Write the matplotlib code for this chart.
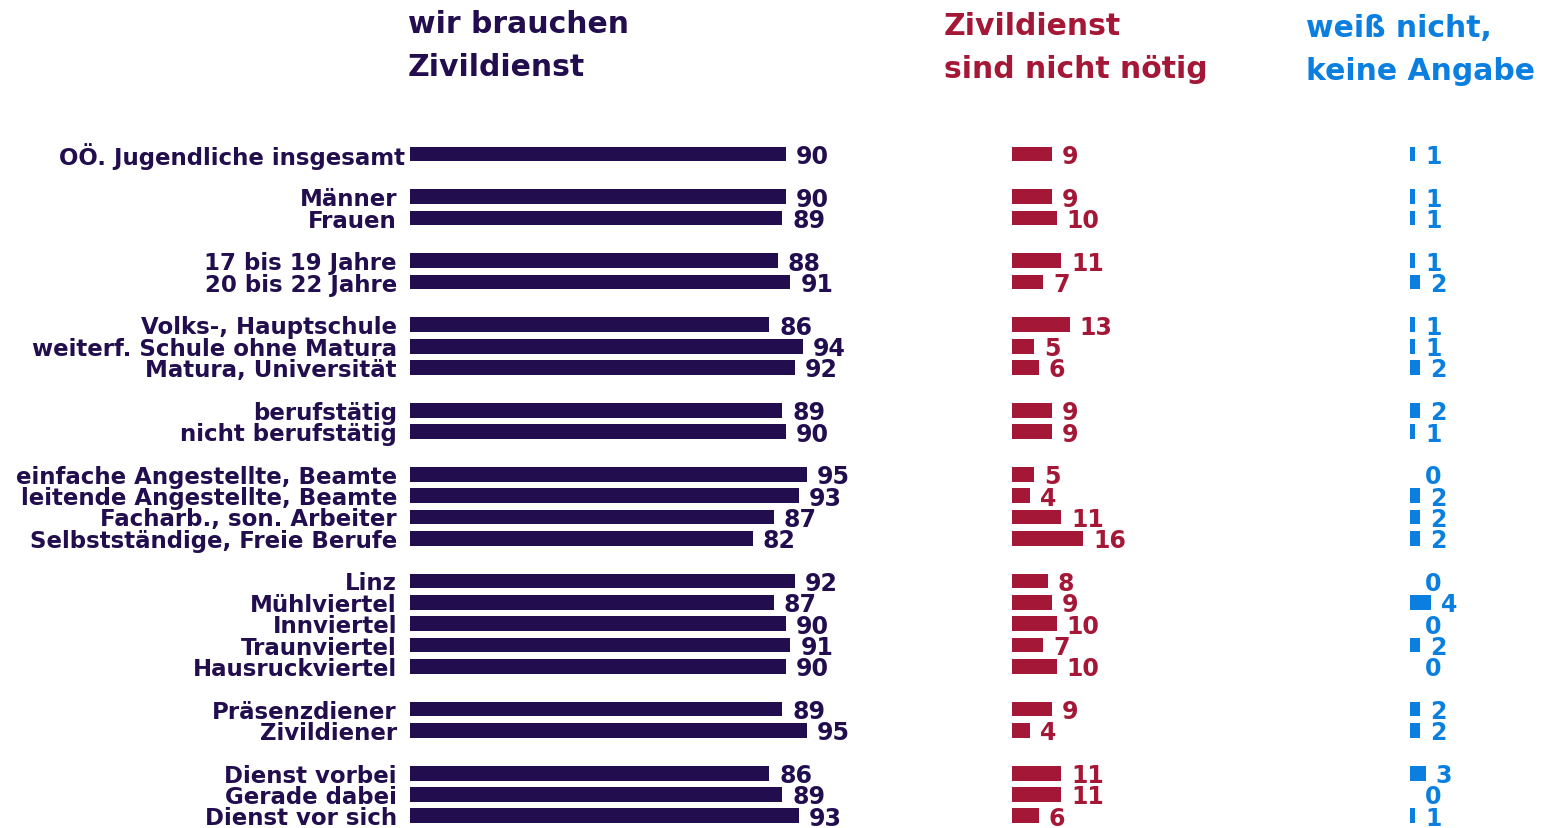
import matplotlib
matplotlib.use("Agg")
import matplotlib.pyplot as plt

labels = ["OÖ. Jugendliche insgesamt", "Männer", "Frauen", "17 bis 19 Jahre", "20 bis 22 Jahre",
          "Volks-, Hauptschule", "weiterf. Schule ohne Matura", "Matura, Universität",
          "berufstätig", "nicht berufstätig",
          "einfache Angestellte, Beamte", "leitende Angestellte, Beamte",
          "Facharb., son. Arbeiter", "Selbstständige, Freie Berufe",
          "Linz", "Mühlviertel", "Innviertel", "Traunviertel", "Hausruckviertel",
          "Präsenzdiener", "Zivildiener",
          "Dienst vorbei", "Gerade dabei", "Dienst vor sich"]
slots = [0, 2, 3, 5, 6, 8, 9, 10, 12, 13, 15, 16, 17, 18, 20, 21, 22, 23, 24, 26, 27, 29, 30, 31]
need = [90, 90, 89, 88, 91, 86, 94, 92, 89, 90, 95, 93, 87, 82, 92, 87, 90, 91, 90, 89, 95, 86, 89, 93]
not_needed = [9, 9, 10, 11, 7, 13, 5, 6, 9, 9, 5, 4, 11, 16, 8, 9, 10, 7, 10, 9, 4, 11, 11, 6]
dont_know = [1, 1, 1, 1, 2, 1, 1, 2, 2, 1, 0, 2, 2, 2, 0, 4, 0, 2, 0, 2, 2, 3, 0, 1]
headers = ["wir brauchen\nZivildienst", "Zivildienst\nsind nicht nötig", "weiß nicht,\nkeine Angabe"]

DARK = "#220E4E"
RED = "#A51736"
BLUE = "#0A7FE0"
FONT = "DejaVu Sans"

W, H = 1551, 829
fig = plt.figure(figsize=(W / 100, H / 100), dpi=100)
fig.patch.set_facecolor("white")

ylim = ((H - 155) / 21.35, -155 / 21.35)
PX = 0.72  # points per pixel


def make_ax(x0, width, scale):
    ax = fig.add_axes([x0 / W, 0, width / W, 1])
    ax.set_xlim(0, width / scale)
    ax.set_ylim(*ylim)
    ax.axis("off")
    ax.patch.set_alpha(0)
    return ax


ax1 = make_ax(410, 480, 4.18)
ax2 = make_ax(1012, 200, 4.45)
ax3 = make_ax(1410, 140, 5.2)

for ax, vals, col in [(ax1, need, DARK), (ax2, not_needed, RED), (ax3, dont_know, BLUE)]:
    ax.barh(slots, vals, height=0.69, color=col, edgecolor="none")
    for s, v in zip(slots, vals):
        off = 10 if v > 0 else 15
        ax.annotate(str(v), (v, s), xytext=(off * PX, -2 * PX), textcoords="offset points",
                    ha="left", va="center", fontsize=17, color=col, family=FONT,
                    fontweight="semibold")

for i, (s, lab) in enumerate(zip(slots, labels)):
    off = -5 if i == 0 else -13
    ax1.annotate(lab, (0, s), xytext=(off * PX, -2 * PX), textcoords="offset points",
                 ha="right", va="center", fontsize=16.5, color=DARK, family=FONT,
                 fontweight="bold")

hx = [408, 944, 1306]
hc = [DARK, RED, BLUE]
hy = [10, 12, 14]
for t, x, y, c in zip(headers, hx, hy, hc):
    fig.text(x / W, 1 - y / H, t, ha="left", va="top", fontsize=21.5, color=c,
             family=FONT, fontweight="bold", linespacing=1.62)

fig.savefig("out.png", dpi=100, facecolor="white")
